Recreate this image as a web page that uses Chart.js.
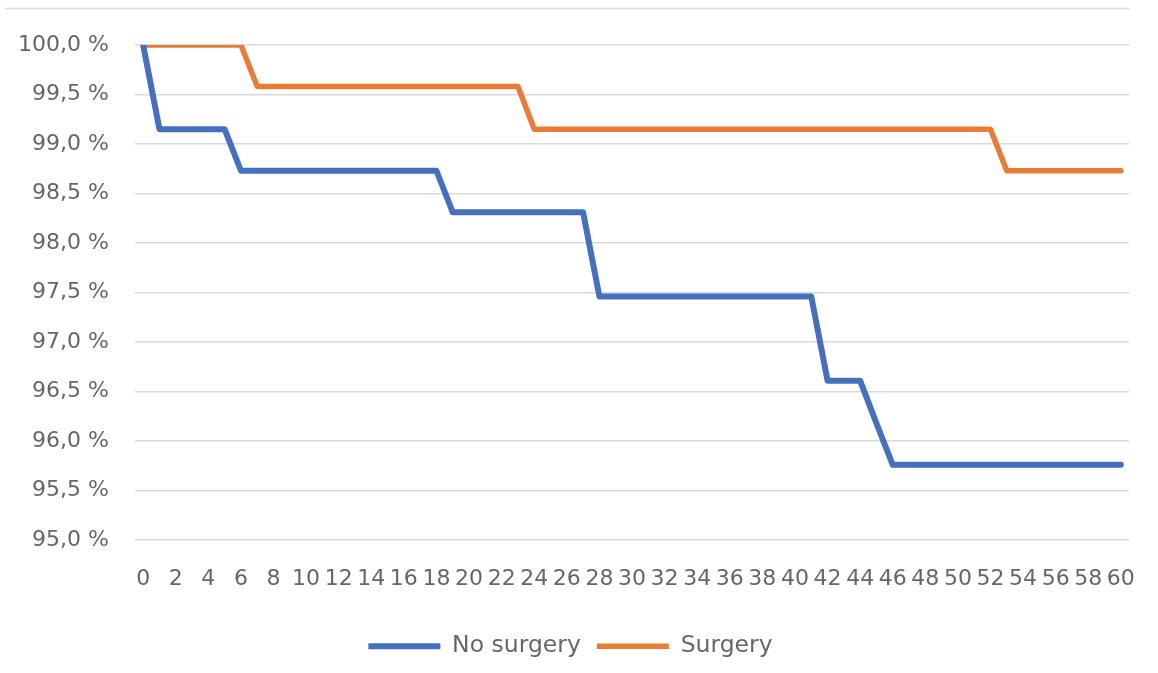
<!DOCTYPE html>
<html>
<head>
<meta charset="utf-8">
<script src="https://cdn.jsdelivr.net/npm/chart.js@4/dist/chart.umd.min.js"></script>
<style>
  html, body { margin: 0; padding: 0; background: #ffffff; }
  #wrap { width: 1158px; height: 673px; position: relative; }
</style>
</head>
<body>
<div id="wrap"><canvas id="c"></canvas></div>
<script>
// Months of follow-up, 0..60
const months = [];
for (let m = 0; m <= 60; m++) months.push(String(m));

// Survival (%) per month, no surgery
const noSurgery = [
  100.00,                                     // 0
  99.15, 99.15, 99.15, 99.15, 99.15,          // 1-5
  98.73, 98.73, 98.73, 98.73, 98.73, 98.73, 98.73,
  98.73, 98.73, 98.73, 98.73, 98.73, 98.73,   // 6-18
  98.31, 98.31, 98.31, 98.31, 98.31, 98.31, 98.31, 98.31, 98.31, // 19-27
  97.46, 97.46, 97.46, 97.46, 97.46, 97.46, 97.46,
  97.46, 97.46, 97.46, 97.46, 97.46, 97.46, 97.46, // 28-41
  96.61, 96.61, 96.61,                        // 42-44
  96.18,                                      // 45
  95.76, 95.76, 95.76, 95.76, 95.76, 95.76, 95.76, 95.76,
  95.76, 95.76, 95.76, 95.76, 95.76, 95.76, 95.76  // 46-60
];

// Survival (%) per month, surgery
const surgery = [
  100.00, 100.00, 100.00, 100.00, 100.00, 100.00, 100.00, // 0-6
  99.58, 99.58, 99.58, 99.58, 99.58, 99.58, 99.58, 99.58, 99.58,
  99.58, 99.58, 99.58, 99.58, 99.58, 99.58, 99.58, 99.58, // 7-23
  99.15, 99.15, 99.15, 99.15, 99.15, 99.15, 99.15, 99.15, 99.15, 99.15,
  99.15, 99.15, 99.15, 99.15, 99.15, 99.15, 99.15, 99.15, 99.15, 99.15,
  99.15, 99.15, 99.15, 99.15, 99.15, 99.15, 99.15, 99.15, 99.15, // 24-52
  98.73, 98.73, 98.73, 98.73, 98.73, 98.73, 98.73, 98.73  // 53-60
];

const seriesNames = ['No surgery', 'Surgery'];
const yMin = 95, yMax = 100, yStep = 0.5;

const BLUE = '#4670BE';
const ORANGE = '#E67C35';
const TEXT = '#666666';
const GRID = '#d9d9d9';
const FONT = 'DejaVu Sans';

// thin frame edge across the top of the figure
const topEdge = {
  id: 'topEdge',
  beforeDraw(chart) {
    const ctx = chart.ctx;
    ctx.save();
    ctx.strokeStyle = '#dcdcdc';
    ctx.lineWidth = 1.5;
    ctx.beginPath();
    ctx.moveTo(5, 8.5);
    ctx.lineTo(1130, 8.5);
    ctx.stroke();
    ctx.restore();
  }
};

new Chart(document.getElementById('c'), {
  type: 'line',
  data: {
    labels: months,
    datasets: [
      {
        label: seriesNames[0],
        data: noSurgery,
        borderColor: BLUE,
        backgroundColor: BLUE,
        borderWidth: 6,
        pointRadius: 0,
        tension: 0,
        borderJoinStyle: 'round',
        borderCapStyle: 'round'
      },
      {
        label: seriesNames[1],
        data: surgery,
        borderColor: ORANGE,
        backgroundColor: ORANGE,
        borderWidth: 5.5,
        pointRadius: 0,
        tension: 0,
        borderJoinStyle: 'round',
        borderCapStyle: 'round'
      }
    ]
  },
  options: {
    responsive: true,
    maintainAspectRatio: false,
    animation: false,
    layout: { padding: { left: 12, right: 29, top: 45, bottom: 5 } },
    plugins: {
      tooltip: { enabled: false },
      legend: {
        position: 'bottom',
        labels: {
          usePointStyle: true,
          pointStyle: 'line',
          pointStyleWidth: 72,
          color: TEXT,
          font: { family: FONT, size: 23.5 },
          padding: 16
        }
      }
    },
    scales: {
      x: {
        type: 'category',
        offset: true,
        // let the last label run past the plot edge
        afterFit(axis) { axis.paddingLeft = 0; axis.paddingRight = 0; },
        grid: { display: false, drawTicks: false },
        border: { display: false },
        ticks: {
          autoSkip: false,
          maxRotation: 0,
          minRotation: 0,
          padding: 26,
          color: TEXT,
          font: { family: FONT, size: 22 },
          callback(v, i) { return i % 2 === 0 ? months[i] : ''; }
        }
      },
      y: {
        min: yMin,
        max: yMax,
        afterFit(axis) { axis.width = 123; },
        grid: { color: GRID, lineWidth: 1.5, drawTicks: false },
        border: { display: false },
        ticks: {
          stepSize: yStep,
          padding: 26,
          color: TEXT,
          font: { family: FONT, size: 22 },
          callback(v) { return v.toFixed(1).replace('.', ',') + ' %'; }
        }
      }
    }
  },
  plugins: [topEdge]
});
</script>
</body>
</html>
